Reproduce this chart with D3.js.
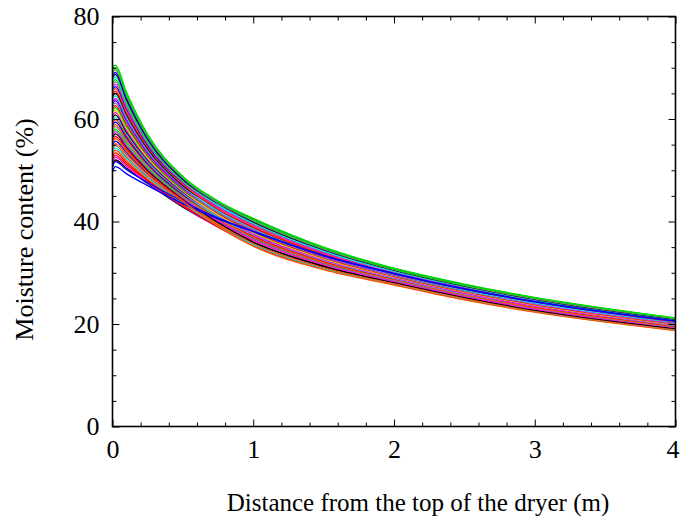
<!DOCTYPE html>
<html>
<head>
<meta charset="utf-8">
<script src="https://cdn.jsdelivr.net/npm/d3@7"></script>
<style>
  body { margin: 0; background: #fff; }
  svg text { font-family: "Liberation Serif", "Times New Roman", serif; fill: #000; }
  .axis path { display: none; }
  .axis line { stroke: #000; stroke-width: 1; }
</style>
</head>
<body>
<div id="chart"></div>
<script>
// distance along the dryer (m) where each run was sampled
var distance = [0, 0.02, 0.1, 0.25, 0.5, 0.75, 1, 1.5, 2, 2.5, 3, 4];

// moisture content (%) of each simulated run, one array per run
var run01 = [51.2, 52.0, 50.4, 47.4, 42.8, 39.0, 35.9, 31.2, 28.0, 25.1, 22.7, 19.0];
var run02 = [51.7, 52.5, 50.8, 47.6, 43.0, 38.9, 35.6, 30.9, 27.8, 24.9, 22.5, 18.9];
var run03 = [52.1, 52.9, 51.1, 47.9, 43.1, 39.3, 36.3, 31.5, 28.3, 25.3, 22.9, 19.2];
var run04 = [52.6, 53.4, 51.5, 48.1, 43.3, 38.9, 35.3, 30.7, 27.7, 24.8, 22.4, 18.8];
var run05 = [53.1, 53.9, 51.9, 48.4, 43.4, 39.5, 36.4, 31.6, 28.3, 25.4, 22.9, 19.3];
var run06 = [53.5, 54.3, 52.3, 48.6, 43.6, 39.1, 35.5, 30.8, 27.8, 24.9, 22.4, 18.8];
var run07 = [54.0, 54.8, 52.6, 48.8, 43.7, 39.7, 36.6, 31.7, 28.4, 25.5, 23.0, 19.3];
var run08 = [54.5, 55.2, 53.0, 49.1, 43.9, 39.1, 35.2, 30.6, 27.6, 24.7, 22.3, 18.7];
var run09 = [54.9, 55.7, 53.4, 49.3, 44.0, 40.0, 36.8, 31.9, 28.6, 25.6, 23.2, 19.5];
var run10 = [55.4, 56.2, 53.7, 49.6, 44.2, 39.5, 35.7, 31.0, 27.9, 25.0, 22.6, 19.0];
var run11 = [55.9, 56.6, 54.1, 49.8, 44.3, 40.2, 37.1, 32.1, 28.8, 25.8, 23.3, 19.6];
var run12 = [56.3, 57.1, 54.5, 50.0, 44.5, 39.8, 36.0, 31.3, 28.1, 25.2, 22.7, 19.1];
var run13 = [56.8, 57.6, 54.8, 50.3, 44.6, 40.1, 36.4, 31.6, 28.3, 25.4, 22.9, 19.3];
var run14 = [57.3, 58.0, 55.2, 50.5, 44.8, 40.8, 37.6, 32.6, 29.1, 26.1, 23.6, 19.8];
var run15 = [57.7, 58.5, 55.6, 50.8, 44.9, 40.4, 36.7, 31.8, 28.5, 25.6, 23.1, 19.4];
var run16 = [58.2, 58.9, 56.0, 51.0, 45.1, 40.5, 37.0, 32.0, 28.7, 25.7, 23.2, 19.5];
var run17 = [58.7, 59.4, 56.3, 51.2, 45.2, 41.0, 37.9, 32.8, 29.3, 26.3, 23.8, 20.0];
var run18 = [59.1, 59.9, 56.7, 51.5, 45.4, 40.8, 37.2, 32.3, 28.8, 25.9, 23.4, 19.6];
var run19 = [59.6, 60.3, 57.1, 51.7, 45.5, 40.9, 37.4, 32.4, 28.9, 25.9, 23.5, 19.7];
var run20 = [60.1, 60.8, 57.4, 52.0, 45.7, 41.4, 38.3, 33.1, 29.5, 26.5, 24.0, 20.1];
var run21 = [60.6, 61.3, 57.8, 52.2, 45.8, 41.2, 37.5, 32.5, 29.0, 26.0, 23.5, 19.8];
var run22 = [61.0, 61.7, 58.2, 52.4, 46.0, 41.3, 37.8, 32.7, 29.2, 26.2, 23.7, 19.9];
var run23 = [61.5, 62.2, 58.5, 52.7, 46.1, 41.8, 38.7, 33.5, 29.7, 26.7, 24.2, 20.3];
var run24 = [62.0, 62.6, 58.9, 52.9, 46.3, 41.6, 38.0, 32.9, 29.3, 26.3, 23.8, 20.0];
var run25 = [62.4, 63.1, 59.3, 53.2, 46.4, 41.7, 38.2, 33.0, 29.4, 26.4, 23.9, 20.1];
var run26 = [62.9, 63.6, 59.7, 53.4, 46.6, 42.2, 39.0, 33.7, 29.9, 26.9, 24.3, 20.5];
var run27 = [63.4, 64.0, 60.0, 53.6, 46.7, 42.0, 38.4, 33.2, 29.6, 26.6, 24.0, 20.2];
var run28 = [63.8, 64.5, 60.4, 53.9, 46.9, 42.1, 38.6, 33.4, 29.7, 26.6, 24.1, 20.3];
var run29 = [64.3, 65.0, 60.8, 54.1, 47.0, 42.7, 39.4, 34.0, 30.2, 27.1, 24.5, 20.6];
var run30 = [64.8, 65.4, 61.1, 54.4, 47.2, 42.4, 38.8, 33.6, 29.8, 26.8, 24.3, 20.4];
var run31 = [65.2, 65.9, 61.5, 54.6, 47.3, 42.7, 39.1, 33.8, 30.0, 26.9, 24.4, 20.5];
var run32 = [65.7, 66.3, 61.9, 54.8, 47.5, 43.1, 39.8, 34.3, 30.4, 27.3, 24.8, 20.8];
var run33 = [66.2, 66.8, 62.2, 55.1, 47.6, 42.8, 39.3, 33.9, 30.1, 27.0, 24.5, 20.6];
var run34 = [66.6, 67.3, 62.6, 55.3, 47.8, 43.1, 39.5, 34.1, 30.2, 27.2, 24.6, 20.7];
var run35 = [67.1, 67.7, 63.0, 55.6, 47.9, 43.5, 40.2, 34.7, 30.7, 27.6, 25.0, 21.0];
var run36 = [67.6, 68.2, 63.4, 55.8, 48.1, 43.2, 39.7, 34.2, 30.3, 27.3, 24.7, 20.8];
var run37 = [68.0, 68.7, 63.7, 56.0, 48.2, 43.5, 39.9, 34.5, 30.5, 27.4, 24.8, 20.9];
var run38 = [68.5, 69.1, 64.1, 56.3, 48.4, 43.7, 40.5, 34.9, 30.8, 27.7, 25.1, 21.1];
var run39 = [69.0, 69.6, 64.5, 56.5, 48.5, 43.6, 40.1, 34.6, 30.6, 27.5, 24.9, 21.0];
var run40 = [69.4, 70.0, 64.8, 56.8, 48.7, 43.9, 40.3, 34.8, 30.7, 27.6, 25.1, 21.1];
var run41 = [69.9, 70.5, 65.2, 57.0, 48.8, 44.0, 40.6, 35.0, 30.9, 27.8, 25.2, 21.2];
var run42 = [49.7, 50.7, 49.3, 47.0, 43.5, 40.5, 38.0, 33.3, 29.8, 26.8, 24.3, 20.5];
var run43 = [50.6, 51.7, 50.1, 47.6, 43.9, 40.7, 38.1, 33.4, 29.9, 26.9, 24.4, 20.6];

var runs = [run01, run02, run03, run04, run05, run06, run07, run09, run10,
            run11, run12, run13, run14, run15, run16, run17, run18, run19, run20,
            run21, run22, run23, run24, run25, run26, run27, run28, run29, run30,
            run31, run32, run33, run34, run35, run36, run37, run38, run39, run40,
            run41, run42, run43, run08];

// gnuplot style line colours, same order as runs
var runColors = ['black', 'magenta', 'red', 'red', 'orange', 'cyan', 'gray',
                 'blue', 'orange', 'red', 'black', 'magenta', 'green', 'gray', 'orange',
                 'blue', 'red', 'cyan', 'black', 'magenta', 'yellow', 'green', 'red',
                 'gray', 'blue', 'magenta', 'cyan', 'black', 'red', 'orange', 'blue',
                 'magenta', 'gray', 'green', 'cyan', 'black', 'blue', 'gray', 'green',
                 'green', 'blue', 'blue', 'orange'];

var palette = {
    red: '#ff0000', green: '#00dd00', blue: '#0000ff', magenta: '#ff00ff',
    cyan: '#00e5e5', yellow: '#e0e000', black: '#000000', orange: '#ff5500', gray: '#808080'
};

var xTicks = [0, 1, 2, 3, 4];
var yTicks = [0, 20, 40, 60, 80];
var xMinor = [0.2, 0.4, 0.6, 0.8, 1.2, 1.4, 1.6, 1.8, 2.2, 2.4, 2.6, 2.8, 3.2, 3.4, 3.6, 3.8];
var yMinor = [5, 10, 15, 25, 30, 35, 45, 50, 55, 65, 70, 75];

var xTitle = 'Distance from the top of the dryer (m)';
var yTitle = 'Moisture content (%)';

var W = 680, H = 524;
var margin = { top: 16.5, right: 4.5, bottom: 97.5, left: 112.5 }
    , width = W - margin.left - margin.right
    , height = H - margin.top - margin.bottom;

var x = d3.scaleLinear().domain([0, 4]).range([0, width]);
var y = d3.scaleLinear().domain([0, 80]).range([height, 0]);

var svg = d3.select('#chart').append('svg')
    .attr('width', W)
    .attr('height', H);

var main = svg.append('g')
    .attr('transform', 'translate(' + margin.left + ',' + margin.top + ')');

// curves
var line = d3.line()
    .x(function (d, i) { return x(distance[i]); })
    .y(function (d) { return y(d); })
    .curve(d3.curveMonotoneX);

main.append('g').selectAll('path')
    .data(runs)
    .enter().append('path')
    .attr('d', line)
    .attr('fill', 'none')
    .attr('stroke', function (d, i) { return palette[runColors[i]]; })
    .attr('stroke-width', 1.3);

// ticks, all pointing inwards, mirrored on top and right
var major = 7, minor = 4;
function noLabel() { return ''; }

var bottomAxis = main.append('g').attr('class', 'axis')
    .attr('transform', 'translate(0,' + height + ')')
    .call(d3.axisBottom(x).tickValues(xTicks).tickSize(-major).tickPadding(13)
        .tickFormat(d3.format('d')));
bottomAxis.selectAll('text').attr('font-size', 26);
// last label sits against the window edge, nudge it in
bottomAxis.selectAll('text').filter(function (d) { return d === 4; })
    .attr('dx', -3);
main.append('g').attr('class', 'axis')
    .attr('transform', 'translate(0,' + height + ')')
    .call(d3.axisBottom(x).tickValues(xMinor).tickSize(-minor).tickFormat(noLabel));

var leftAxis = main.append('g').attr('class', 'axis')
    .call(d3.axisLeft(y).tickValues(yTicks).tickSize(-major).tickPadding(13)
        .tickFormat(d3.format('d')));
leftAxis.selectAll('text').attr('font-size', 26);
main.append('g').attr('class', 'axis')
    .call(d3.axisLeft(y).tickValues(yMinor).tickSize(-minor).tickFormat(noLabel));

main.append('g').attr('class', 'axis')
    .call(d3.axisTop(x).tickValues(xTicks).tickSize(-major).tickFormat(noLabel));
main.append('g').attr('class', 'axis')
    .call(d3.axisTop(x).tickValues(xMinor).tickSize(-minor).tickFormat(noLabel));
main.append('g').attr('class', 'axis')
    .attr('transform', 'translate(' + width + ',0)')
    .call(d3.axisRight(y).tickValues(yTicks).tickSize(-major).tickFormat(noLabel));
main.append('g').attr('class', 'axis')
    .attr('transform', 'translate(' + width + ',0)')
    .call(d3.axisRight(y).tickValues(yMinor).tickSize(-minor).tickFormat(noLabel));

// frame
main.append('rect')
    .attr('width', width)
    .attr('height', height)
    .attr('fill', 'none')
    .attr('stroke', '#000')
    .attr('stroke-width', 1.6);

// axis titles
svg.append('text')
    .attr('x', 418)
    .attr('y', 511)
    .attr('text-anchor', 'middle')
    .attr('font-size', 25)
    .text(xTitle);

svg.append('text')
    .attr('transform', 'translate(33,' + (margin.top + height / 2 + 8) + ') rotate(-90)')
    .attr('text-anchor', 'middle')
    .attr('font-size', 26)
    .text(yTitle);
</script>
</body>
</html>
